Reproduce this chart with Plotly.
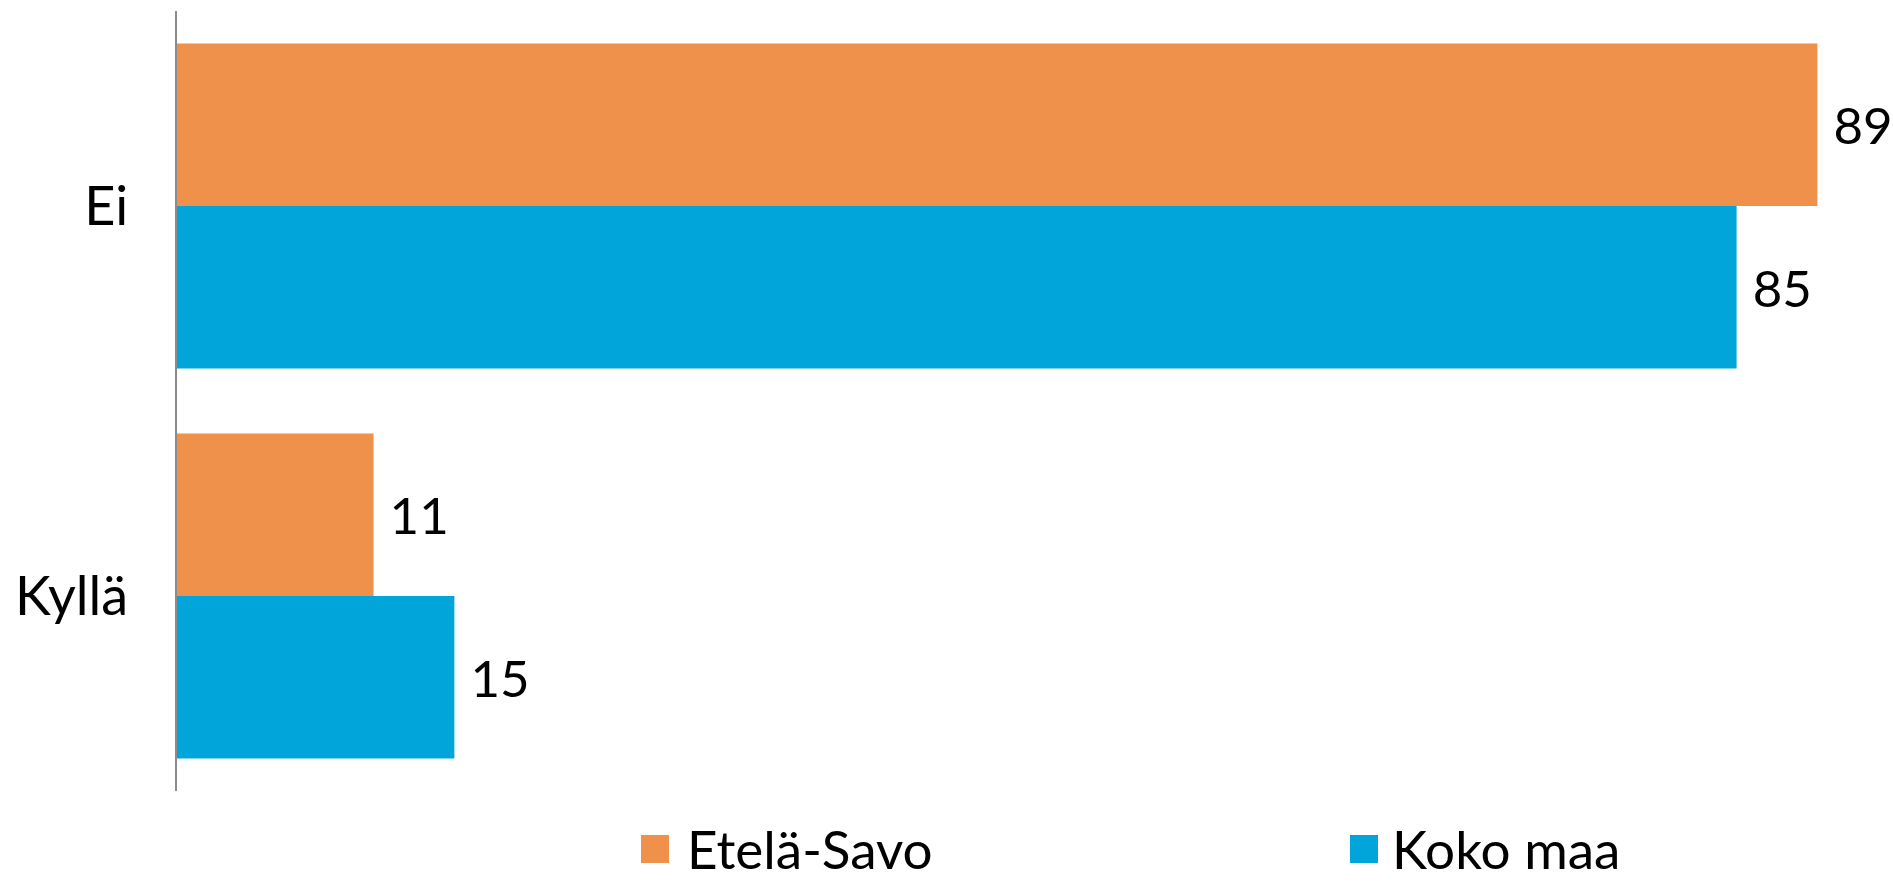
import plotly.graph_objects as go

categories = ["Ei", "Kyllä"]
series_names = ["Etelä-Savo", "Koko maa"]
etela_savo = [89.3, 10.7]
koko_maa = [84.9, 15.1]
etela_savo_labels = ["89", "11"]
koko_maa_labels = ["85", "15"]

colors = ["#F0914B", "#02A5DA"]
FONT = "Lato"
FS = 54

fig = go.Figure()
for name, vals, labels, col in [
    (series_names[0], etela_savo, etela_savo_labels, colors[0]),
    (series_names[1], koko_maa, koko_maa_labels, colors[1]),
]:
    fig.add_trace(go.Bar(
        name=name, y=categories, x=vals, orientation="h",
        marker=dict(color=col, line=dict(width=0)),
        text=labels, texttemplate="\u00a0%{text}", textposition="outside",
        textfont=dict(family=FONT, size=51, color="#000000"),
        cliponaxis=False, constraintext="none", showlegend=False,
        hoverinfo="skip",
    ))

W, H = 1893, 882
ml, mr, mt, mb = 177, 26, 11, 91
pw = W - ml - mr
ph = H - mt - mb

def px_x(p):
    return (p - ml) / pw

def px_y(p):
    return (H - mb - p) / ph

# legend swatches and labels
leg = [(641, 669, 685, series_names[0], colors[0]),
       (1350, 1378, 1390, series_names[1], colors[1])]
for x0, x1, tx, name, col in leg:
    fig.add_shape(type="rect", xref="paper", yref="paper",
                  x0=px_x(x0), x1=px_x(x1), y0=px_y(863), y1=px_y(835),
                  fillcolor=col, line=dict(width=0))
    fig.add_annotation(xref="paper", yref="paper", x=px_x(tx), y=px_y(848),
                       xanchor="left", yanchor="middle", text=name, showarrow=False,
                       font=dict(family=FONT, size=53, color="#000000"))

fig.update_layout(
    width=W, height=H,
    margin=dict(l=ml, r=mr, t=mt, b=mb, pad=0),
    barmode="group", bargap=0.167, bargroupgap=0,
    plot_bgcolor="white", paper_bgcolor="white",
    font=dict(family=FONT, size=FS, color="#000000"),
    xaxis=dict(range=[0, 92], visible=False, showgrid=False, zeroline=False),
    yaxis=dict(range=[1.5, -0.5], showline=True, linecolor="#8C8C8C", linewidth=2,
               ticks="", showgrid=False, zeroline=False, ticklabelstandoff=36,
               tickfont=dict(family=FONT, size=FS, color="#000000")),
)

fig.write_html("out.html", config={"displayModeBar": False},
               post_script="document.body.style.margin='0';document.body.style.overflow='hidden';")
